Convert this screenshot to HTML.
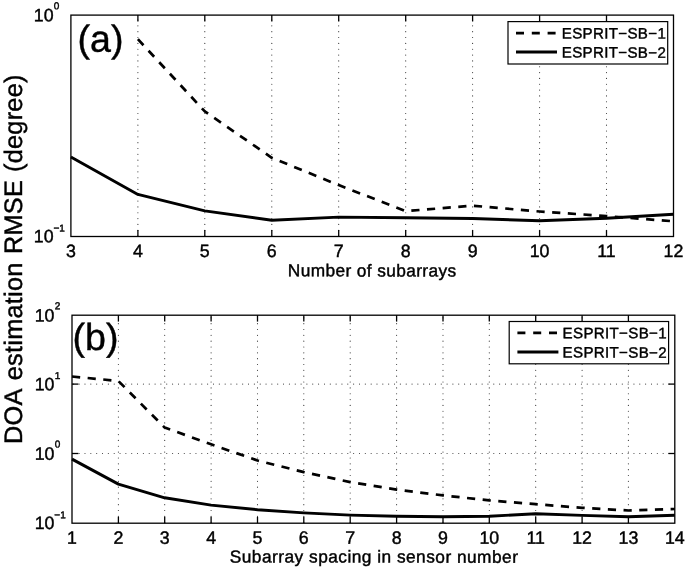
<!DOCTYPE html>
<html><head><meta charset="utf-8"><title>chart</title>
<style>
html,body{margin:0;padding:0;background:#fff;}
body{width:685px;height:567px;overflow:hidden;font-family:"Liberation Sans",sans-serif;}
svg{display:block;will-change:transform;opacity:0.999;}
text{font-family:"Liberation Sans",sans-serif;fill:#000;text-rendering:geometricPrecision;stroke:#000;stroke-width:0.42px;}
</style></head><body>
<svg width="685" height="567" viewBox="0 0 685 567">
<rect x="0" y="0" width="685" height="567" fill="#fff"/>

<g id="top">
<path d="M137.9 236.1V15.1" stroke="#000" stroke-width="1.15" stroke-dasharray="0 5.84" stroke-linecap="round" fill="none" opacity="0.78"/>
<line x1="137.9" y1="236.5" x2="137.9" y2="230.1" stroke="#000" stroke-width="1.3"/>
<line x1="137.9" y1="15.1" x2="137.9" y2="21.5" stroke="#000" stroke-width="1.3"/>
<path d="M204.8 236.1V15.1" stroke="#000" stroke-width="1.15" stroke-dasharray="0 5.84" stroke-linecap="round" fill="none" opacity="0.78"/>
<line x1="204.8" y1="236.5" x2="204.8" y2="230.1" stroke="#000" stroke-width="1.3"/>
<line x1="204.8" y1="15.1" x2="204.8" y2="21.5" stroke="#000" stroke-width="1.3"/>
<path d="M271.8 236.1V15.1" stroke="#000" stroke-width="1.15" stroke-dasharray="0 5.84" stroke-linecap="round" fill="none" opacity="0.78"/>
<line x1="271.8" y1="236.5" x2="271.8" y2="230.1" stroke="#000" stroke-width="1.3"/>
<line x1="271.8" y1="15.1" x2="271.8" y2="21.5" stroke="#000" stroke-width="1.3"/>
<path d="M338.7 236.1V15.1" stroke="#000" stroke-width="1.15" stroke-dasharray="0 5.84" stroke-linecap="round" fill="none" opacity="0.78"/>
<line x1="338.7" y1="236.5" x2="338.7" y2="230.1" stroke="#000" stroke-width="1.3"/>
<line x1="338.7" y1="15.1" x2="338.7" y2="21.5" stroke="#000" stroke-width="1.3"/>
<path d="M405.7 236.1V15.1" stroke="#000" stroke-width="1.15" stroke-dasharray="0 5.84" stroke-linecap="round" fill="none" opacity="0.78"/>
<line x1="405.7" y1="236.5" x2="405.7" y2="230.1" stroke="#000" stroke-width="1.3"/>
<line x1="405.7" y1="15.1" x2="405.7" y2="21.5" stroke="#000" stroke-width="1.3"/>
<path d="M472.6 236.1V15.1" stroke="#000" stroke-width="1.15" stroke-dasharray="0 5.84" stroke-linecap="round" fill="none" opacity="0.78"/>
<line x1="472.6" y1="236.5" x2="472.6" y2="230.1" stroke="#000" stroke-width="1.3"/>
<line x1="472.6" y1="15.1" x2="472.6" y2="21.5" stroke="#000" stroke-width="1.3"/>
<path d="M539.6 236.1V15.1" stroke="#000" stroke-width="1.15" stroke-dasharray="0 5.84" stroke-linecap="round" fill="none" opacity="0.78"/>
<line x1="539.6" y1="236.5" x2="539.6" y2="230.1" stroke="#000" stroke-width="1.3"/>
<line x1="539.6" y1="15.1" x2="539.6" y2="21.5" stroke="#000" stroke-width="1.3"/>
<path d="M606.5 236.1V15.1" stroke="#000" stroke-width="1.15" stroke-dasharray="0 5.84" stroke-linecap="round" fill="none" opacity="0.78"/>
<line x1="606.5" y1="236.5" x2="606.5" y2="230.1" stroke="#000" stroke-width="1.3"/>
<line x1="606.5" y1="15.1" x2="606.5" y2="21.5" stroke="#000" stroke-width="1.3"/>
<polyline points="137.9,39.2 204.8,111.4 271.8,157.8 338.7,185.1 405.7,211.1 472.6,205.7 539.6,211.5 606.5,216.1 673.5,221.3" fill="none" stroke="#000" stroke-width="2.7" stroke-dasharray="8.2 7.5" stroke-linejoin="round"/>
<polyline points="70.9,156.9 137.9,194.4 204.8,210.9 271.8,220.3 338.7,217.1 405.7,217.8 472.6,218.5 539.6,220.8 606.5,218.2 673.5,214.2" fill="none" stroke="#000" stroke-width="2.9" stroke-linejoin="round"/>
<rect x="70.9" y="15.1" width="602.6" height="221.4" fill="none" stroke="#000" stroke-width="1.3"/>
<text x="70.9" y="257.0" transform="rotate(0.03 70.9 257.0)" font-size="17.8" text-anchor="middle">3</text>
<text x="137.9" y="257.0" transform="rotate(0.03 137.9 257.0)" font-size="17.8" text-anchor="middle">4</text>
<text x="204.8" y="257.0" transform="rotate(0.03 204.8 257.0)" font-size="17.8" text-anchor="middle">5</text>
<text x="271.8" y="257.0" transform="rotate(0.03 271.8 257.0)" font-size="17.8" text-anchor="middle">6</text>
<text x="338.7" y="257.0" transform="rotate(0.03 338.7 257.0)" font-size="17.8" text-anchor="middle">7</text>
<text x="405.7" y="257.0" transform="rotate(0.03 405.7 257.0)" font-size="17.8" text-anchor="middle">8</text>
<text x="472.6" y="257.0" transform="rotate(0.03 472.6 257.0)" font-size="17.8" text-anchor="middle">9</text>
<text x="539.6" y="257.0" transform="rotate(0.03 539.6 257.0)" font-size="17.8" text-anchor="middle">10</text>
<text x="606.5" y="257.0" transform="rotate(0.03 606.5 257.0)" font-size="17.8" text-anchor="middle">11</text>
<text x="673.5" y="257.0" transform="rotate(0.03 673.5 257.0)" font-size="17.8" text-anchor="middle">12</text>
<text x="372.2" y="276.4" transform="rotate(0.03 372.2 276.4)" font-size="17.3" letter-spacing="0.39" text-anchor="middle">Number of subarrays</text>
<text x="77.6" y="51.8" transform="rotate(0.03 77.6 51.8)" font-size="37.6">(a)</text>
<text x="33.8" y="21.3" transform="rotate(0.03 33.8 21.3)" font-size="17.8">10</text><text x="53.8" y="9.2" transform="rotate(0.03 53.8 9.2)" font-size="10.0">0</text>
<text x="33.8" y="242.3" transform="rotate(0.03 33.8 242.3)" font-size="17.8">10</text><text x="53.4" y="231.5" transform="rotate(0.03 53.4 231.5)" font-size="10.0">−1</text>
<rect x="508" y="21.6" width="159.7" height="42.4" fill="#fff" stroke="#000" stroke-width="1.2"/>
<line x1="516" y1="33.1" x2="557" y2="33.1" stroke="#000" stroke-width="2.7" stroke-dasharray="8 7.8"/>
<line x1="516" y1="52.1" x2="557" y2="52.1" stroke="#000" stroke-width="3"/>
<text x="561.8" y="38.5" transform="rotate(0.03 561.8 38.5)" font-size="15.1" letter-spacing="0.33">ESPRIT−SB−1</text>
<text x="561.8" y="57.6" transform="rotate(0.03 561.8 57.6)" font-size="15.1" letter-spacing="0.33">ESPRIT−SB−2</text>
</g>
<g id="bot">
<path d="M118.4 522.2V315.2" stroke="#000" stroke-width="1.15" stroke-dasharray="0 5.84" stroke-linecap="round" fill="none" opacity="0.78"/>
<line x1="118.4" y1="523.2" x2="118.4" y2="516.8000000000001" stroke="#000" stroke-width="1.3"/>
<line x1="118.4" y1="315.2" x2="118.4" y2="321.59999999999997" stroke="#000" stroke-width="1.3"/>
<path d="M164.7 522.2V315.2" stroke="#000" stroke-width="1.15" stroke-dasharray="0 5.84" stroke-linecap="round" fill="none" opacity="0.78"/>
<line x1="164.7" y1="523.2" x2="164.7" y2="516.8000000000001" stroke="#000" stroke-width="1.3"/>
<line x1="164.7" y1="315.2" x2="164.7" y2="321.59999999999997" stroke="#000" stroke-width="1.3"/>
<path d="M211.1 522.2V315.2" stroke="#000" stroke-width="1.15" stroke-dasharray="0 5.84" stroke-linecap="round" fill="none" opacity="0.78"/>
<line x1="211.1" y1="523.2" x2="211.1" y2="516.8000000000001" stroke="#000" stroke-width="1.3"/>
<line x1="211.1" y1="315.2" x2="211.1" y2="321.59999999999997" stroke="#000" stroke-width="1.3"/>
<path d="M257.5 522.2V315.2" stroke="#000" stroke-width="1.15" stroke-dasharray="0 5.84" stroke-linecap="round" fill="none" opacity="0.78"/>
<line x1="257.5" y1="523.2" x2="257.5" y2="516.8000000000001" stroke="#000" stroke-width="1.3"/>
<line x1="257.5" y1="315.2" x2="257.5" y2="321.59999999999997" stroke="#000" stroke-width="1.3"/>
<path d="M303.8 522.2V315.2" stroke="#000" stroke-width="1.15" stroke-dasharray="0 5.84" stroke-linecap="round" fill="none" opacity="0.78"/>
<line x1="303.8" y1="523.2" x2="303.8" y2="516.8000000000001" stroke="#000" stroke-width="1.3"/>
<line x1="303.8" y1="315.2" x2="303.8" y2="321.59999999999997" stroke="#000" stroke-width="1.3"/>
<path d="M350.2 522.2V315.2" stroke="#000" stroke-width="1.15" stroke-dasharray="0 5.84" stroke-linecap="round" fill="none" opacity="0.78"/>
<line x1="350.2" y1="523.2" x2="350.2" y2="516.8000000000001" stroke="#000" stroke-width="1.3"/>
<line x1="350.2" y1="315.2" x2="350.2" y2="321.59999999999997" stroke="#000" stroke-width="1.3"/>
<path d="M396.6 522.2V315.2" stroke="#000" stroke-width="1.15" stroke-dasharray="0 5.84" stroke-linecap="round" fill="none" opacity="0.78"/>
<line x1="396.6" y1="523.2" x2="396.6" y2="516.8000000000001" stroke="#000" stroke-width="1.3"/>
<line x1="396.6" y1="315.2" x2="396.6" y2="321.59999999999997" stroke="#000" stroke-width="1.3"/>
<path d="M443.0 522.2V315.2" stroke="#000" stroke-width="1.15" stroke-dasharray="0 5.84" stroke-linecap="round" fill="none" opacity="0.78"/>
<line x1="443.0" y1="523.2" x2="443.0" y2="516.8000000000001" stroke="#000" stroke-width="1.3"/>
<line x1="443.0" y1="315.2" x2="443.0" y2="321.59999999999997" stroke="#000" stroke-width="1.3"/>
<path d="M489.3 522.2V315.2" stroke="#000" stroke-width="1.15" stroke-dasharray="0 5.84" stroke-linecap="round" fill="none" opacity="0.78"/>
<line x1="489.3" y1="523.2" x2="489.3" y2="516.8000000000001" stroke="#000" stroke-width="1.3"/>
<line x1="489.3" y1="315.2" x2="489.3" y2="321.59999999999997" stroke="#000" stroke-width="1.3"/>
<path d="M535.7 522.2V315.2" stroke="#000" stroke-width="1.15" stroke-dasharray="0 5.84" stroke-linecap="round" fill="none" opacity="0.78"/>
<line x1="535.7" y1="523.2" x2="535.7" y2="516.8000000000001" stroke="#000" stroke-width="1.3"/>
<line x1="535.7" y1="315.2" x2="535.7" y2="321.59999999999997" stroke="#000" stroke-width="1.3"/>
<path d="M582.1 522.2V315.2" stroke="#000" stroke-width="1.15" stroke-dasharray="0 5.84" stroke-linecap="round" fill="none" opacity="0.78"/>
<line x1="582.1" y1="523.2" x2="582.1" y2="516.8000000000001" stroke="#000" stroke-width="1.3"/>
<line x1="582.1" y1="315.2" x2="582.1" y2="321.59999999999997" stroke="#000" stroke-width="1.3"/>
<path d="M628.4 522.2V315.2" stroke="#000" stroke-width="1.15" stroke-dasharray="0 5.84" stroke-linecap="round" fill="none" opacity="0.78"/>
<line x1="628.4" y1="523.2" x2="628.4" y2="516.8000000000001" stroke="#000" stroke-width="1.3"/>
<line x1="628.4" y1="315.2" x2="628.4" y2="321.59999999999997" stroke="#000" stroke-width="1.3"/>
<path d="M669.0 384.1H72.0" stroke="#000" stroke-width="1.15" stroke-dasharray="0 5.84" stroke-linecap="round" fill="none" opacity="0.78"/>
<line x1="72.0" y1="384.1" x2="78.4" y2="384.1" stroke="#000" stroke-width="1.3"/>
<line x1="674.8" y1="384.1" x2="668.4" y2="384.1" stroke="#000" stroke-width="1.3"/>
<path d="M669.0 453.5H72.0" stroke="#000" stroke-width="1.15" stroke-dasharray="0 5.84" stroke-linecap="round" fill="none" opacity="0.78"/>
<line x1="72.0" y1="453.5" x2="78.4" y2="453.5" stroke="#000" stroke-width="1.3"/>
<line x1="674.8" y1="453.5" x2="668.4" y2="453.5" stroke="#000" stroke-width="1.3"/>
<polyline points="72.0,376.5 118.4,381.0 164.7,427.6 211.1,444.3 257.5,460.5 303.8,472.1 350.2,482.1 396.6,489.6 443.0,495.4 489.3,500.4 535.7,504.2 582.1,507.8 628.4,510.5 674.8,509.0" fill="none" stroke="#000" stroke-width="2.7" stroke-dasharray="8.2 7.5" stroke-linejoin="round"/>
<polyline points="72.0,459.1 118.4,484.1 164.7,497.8 211.1,505.1 257.5,509.7 303.8,512.9 350.2,515.1 396.6,516.3 443.0,516.8 489.3,516.2 535.7,513.8 582.1,515.4 628.4,516.7 674.8,515.3" fill="none" stroke="#000" stroke-width="2.9" stroke-linejoin="round"/>
<rect x="72.0" y="315.2" width="602.8" height="208.0" fill="none" stroke="#000" stroke-width="1.3"/>
<text x="72.0" y="543.7" transform="rotate(0.03 72.0 543.7)" font-size="17.8" text-anchor="middle">1</text>
<text x="118.4" y="543.7" transform="rotate(0.03 118.4 543.7)" font-size="17.8" text-anchor="middle">2</text>
<text x="164.7" y="543.7" transform="rotate(0.03 164.7 543.7)" font-size="17.8" text-anchor="middle">3</text>
<text x="211.1" y="543.7" transform="rotate(0.03 211.1 543.7)" font-size="17.8" text-anchor="middle">4</text>
<text x="257.5" y="543.7" transform="rotate(0.03 257.5 543.7)" font-size="17.8" text-anchor="middle">5</text>
<text x="303.8" y="543.7" transform="rotate(0.03 303.8 543.7)" font-size="17.8" text-anchor="middle">6</text>
<text x="350.2" y="543.7" transform="rotate(0.03 350.2 543.7)" font-size="17.8" text-anchor="middle">7</text>
<text x="396.6" y="543.7" transform="rotate(0.03 396.6 543.7)" font-size="17.8" text-anchor="middle">8</text>
<text x="443.0" y="543.7" transform="rotate(0.03 443.0 543.7)" font-size="17.8" text-anchor="middle">9</text>
<text x="489.3" y="543.7" transform="rotate(0.03 489.3 543.7)" font-size="17.8" text-anchor="middle">10</text>
<text x="535.7" y="543.7" transform="rotate(0.03 535.7 543.7)" font-size="17.8" text-anchor="middle">11</text>
<text x="582.1" y="543.7" transform="rotate(0.03 582.1 543.7)" font-size="17.8" text-anchor="middle">12</text>
<text x="628.4" y="543.7" transform="rotate(0.03 628.4 543.7)" font-size="17.8" text-anchor="middle">13</text>
<text x="674.8" y="543.7" transform="rotate(0.03 674.8 543.7)" font-size="17.8" text-anchor="middle">14</text>
<text x="374.1" y="562.6" transform="rotate(0.03 374.1 562.6)" font-size="17.3" letter-spacing="0.48" text-anchor="middle">Subarray spacing in sensor number</text>
<text x="72.6" y="349.9" transform="rotate(0.03 72.6 349.9)" font-size="37.6">(b)</text>
<text x="34.7" y="321.4" transform="rotate(0.03 34.7 321.4)" font-size="17.8">10</text><text x="54.7" y="309.3" transform="rotate(0.03 54.7 309.3)" font-size="10.0">2</text>
<text x="34.7" y="390.3" transform="rotate(0.03 34.7 390.3)" font-size="17.8">10</text><text x="54.7" y="378.9" transform="rotate(0.03 54.7 378.9)" font-size="10.0">1</text>
<text x="34.7" y="459.7" transform="rotate(0.03 34.7 459.7)" font-size="17.8">10</text><text x="54.7" y="447.6" transform="rotate(0.03 54.7 447.6)" font-size="10.0">0</text>
<text x="34.7" y="529.0" transform="rotate(0.03 34.7 529.0)" font-size="17.8">10</text><text x="54.3" y="518.2" transform="rotate(0.03 54.3 518.2)" font-size="10.0">−1</text>
<rect x="509.2" y="321.5" width="159.4" height="42.3" fill="#fff" stroke="#000" stroke-width="1.2"/>
<line x1="517.4" y1="332.9" x2="558.4" y2="332.9" stroke="#000" stroke-width="2.7" stroke-dasharray="8 7.8"/>
<line x1="517.4" y1="352.1" x2="558.4" y2="352.1" stroke="#000" stroke-width="3"/>
<text x="562.6" y="338.3" transform="rotate(0.03 562.6 338.3)" font-size="15.1" letter-spacing="0.33">ESPRIT−SB−1</text>
<text x="562.6" y="357.6" transform="rotate(0.03 562.6 357.6)" font-size="15.1" letter-spacing="0.33">ESPRIT−SB−2</text>
</g>
<text transform="translate(22.2,444.0) rotate(-90)" font-size="25.3" letter-spacing="0.25">DOA<tspan dx="2.3"> estimation</tspan><tspan dx="1.1"> RMSE</tspan><tspan dx="0.7"> (degree)</tspan></text>
</svg></body></html>
